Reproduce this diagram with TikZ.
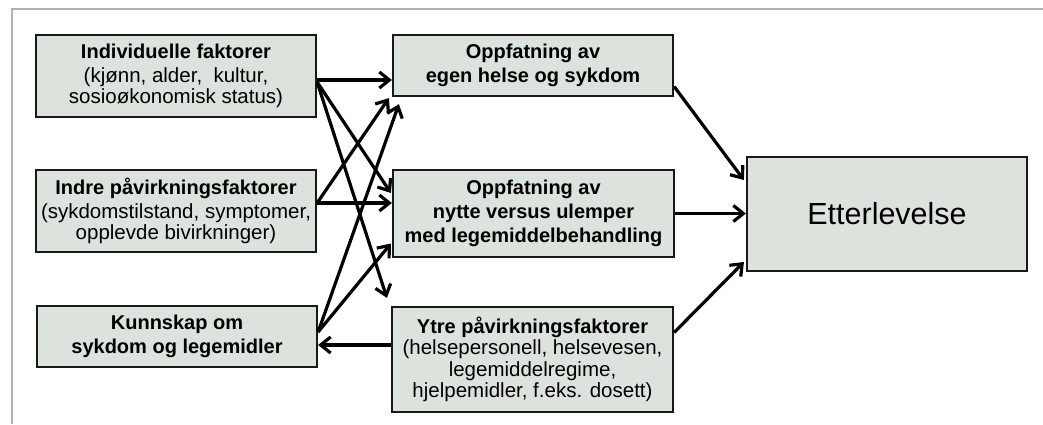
\documentclass[tikz,border=0pt]{standalone}
\usepackage{fontspec}
\setmainfont{Liberation Sans}
\usetikzlibrary{arrows.meta,calc}
\definecolor{boxfill}{RGB}{220,227,221}
\definecolor{framegray}{RGB}{178,178,178}
\newcommand\boxhead[1]{{\fontsize{20}{21}\selectfont\bfseries #1}}
\begin{document}
\begin{tikzpicture}[x=1pt,y=-1pt,
  box/.style={draw=black!90,line width=2.2pt,fill=boxfill,inner sep=0pt,align=center,
    minimum width=280pt,font=\fontsize{20.5}{21.5}\selectfont},
  boldbox/.style={box,font=\fontsize{20}{24}\selectfont\bfseries},
  arr/.style={line width=3.2pt,-{Straight Barb[length=10pt,width=16pt]}}]
\useasboundingbox (0,0) rectangle (1043,424);
\draw[framegray,line width=1.8pt] (12,424) -- (12,9) -- (1043,9);

\node[box,minimum height=82pt] (ind) at (176,76)
  {\boxhead{Individuelle faktorer}\\[2pt](kjønn, alder,~ kultur,\\sosioøkonomisk status)};
\node[box,minimum height=82pt] (indre) at (176,211)
  {\boxhead{Indre påvirkningsfaktorer}\\[2pt](sykdomstilstand, symptomer,\\opplevde bivirkninger)};
\node[boldbox,minimum height=61pt] (kunn) at (177,336.5)
  {Kunnskap om\\sykdom og legemidler};
\node[boldbox,minimum height=61pt] (opp1) at (533,65.5)
  {Oppfatning av\\egen helse og sykdom};
\node[boldbox,minimum height=87pt,minimum width=281pt] (opp2) at (533.5,213.5)
  {Oppfatning av\\nytte versus ulemper\\med legemiddelbehandling};
\node[box,minimum height=105pt,minimum width=281pt] (ytre) at (532.5,359.5)
  {\boxhead{Ytre påvirkningsfaktorer}\\(helsepersonell, helsevesen,\\legemiddelregime,\\hjelpemidler, f.eks. dosett)};
\node[box,minimum height=114pt,font=\fontsize{30.5}{34}\selectfont] (ett) at (887,214)
  {Etterlevelse};

% from Individuelle faktorer
\draw[arr] ($(ind.east)+(0,4)$) coordinate (a1) -- (a1 -| opp1.west);
\draw[arr] ($(ind.east)+(0,6)$) -- ($(opp2.west)+(-1,-20.5)$);
\draw[arr] ($(ind.east)+(0,6)$) -- ($(ytre.north west)+(-4,-8)$);
% from Indre
\draw[arr] ($(indre.east)+(0,-8)$) -- ($(opp1.south west)+(-3,1)$);
\draw[arr] ($(indre.east)+(0,-8)$) coordinate (a5) -- (a5 -| opp2.west);
% from Kunnskap
\draw[arr] ($(kunn.east)+(0,-4.5)$) -- ($(opp1.south west)+(7,7)$);
\draw[arr] ($(kunn.east)+(0,-4.5)$) -- ($(opp2.west)+(-1,30)$);
% Ytre to Kunnskap
\draw[arr] ($(ytre.west)+(0,-14.5)$) coordinate (a8) -- (a8 -| kunn.east);
% to Etterlevelse
\draw[arr] ($(opp1.east)+(0,21)$) -- ($(ett.west)+(-2,-34)$);
\draw[arr] (opp2.east) -- (opp2.east -| ett.west);
\draw[arr] ($(ytre.east)+(0,-27)$) -- ($(ett.west)+(-2,48)$);
\end{tikzpicture}
\end{document}
